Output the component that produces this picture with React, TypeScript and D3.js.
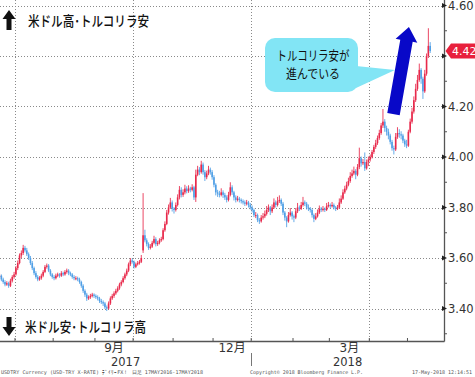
import React from "react";
import * as d3 from "d3";

const W = 475;
const H = 377;

// business-day series start (USDTRY daily candles)
const startDate = new Date(2017, 5, 19);

const opens = [
3.520,3.525,3.530,3.515,3.505,3.495,3.500,3.490,3.510,3.525,
3.535,3.560,3.580,3.610,3.620,3.640,3.630,3.615,3.600,3.580,
3.560,3.540,3.525,3.515,3.520,3.530,3.545,3.565,3.570,3.550,
3.535,3.525,3.520,3.530,3.535,3.530,3.540,3.535,3.545,3.550,
3.540,3.535,3.525,3.520,3.520,3.515,3.505,3.490,3.470,3.455,
3.440,3.445,3.450,3.455,3.450,3.445,3.440,3.430,3.425,3.420,
3.405,3.400,3.420,3.440,3.450,3.460,3.470,3.480,3.495,3.505,
3.520,3.535,3.550,3.575,3.590,3.585,3.565,3.575,3.580,3.585,
3.630,3.690,3.670,3.655,3.640,3.645,3.660,3.675,3.655,3.660,
3.670,3.675,3.710,3.735,3.780,3.800,3.820,3.795,3.790,3.810,
3.840,3.870,3.850,3.860,3.875,3.865,3.875,3.870,3.880,3.840,
3.930,3.950,3.940,3.970,3.940,3.920,3.935,3.950,3.940,3.920,
3.890,3.860,3.855,3.850,3.860,3.850,3.840,3.830,3.850,3.880,
3.860,3.840,3.830,3.835,3.830,3.825,3.820,3.815,3.820,3.810,
3.800,3.790,3.770,3.770,3.750,3.745,3.760,3.765,3.775,3.790,
3.800,3.785,3.800,3.820,3.810,3.825,3.830,3.815,3.780,3.760,
3.745,3.770,3.780,3.765,3.760,3.785,3.800,3.795,3.810,3.820,
3.815,3.800,3.795,3.790,3.770,3.755,3.765,3.780,3.795,3.790,
3.795,3.790,3.805,3.810,3.805,3.810,3.800,3.795,3.800,3.820,
3.835,3.860,3.875,3.890,3.905,3.925,3.935,3.945,3.930,3.960,
3.995,3.975,3.980,3.955,3.980,3.990,4.000,4.020,4.040,4.055,
4.075,4.095,4.125,4.140,4.115,4.100,4.085,4.060,4.035,4.030,
4.080,4.095,4.090,4.085,4.065,4.050,4.045,4.100,4.140,4.180,
4.225,4.270,4.305,4.345,4.310,4.260,4.330,4.400,4.440
];
const highs = [
3.533,3.538,3.535,3.522,3.512,3.508,3.506,3.518,3.532,3.545,
3.568,3.590,3.618,3.630,3.652,3.648,3.640,3.622,3.608,3.588,
3.566,3.548,3.532,3.528,3.538,3.552,3.572,3.578,3.576,3.556,
3.540,3.532,3.538,3.542,3.540,3.548,3.546,3.552,3.558,3.556,
3.546,3.540,3.532,3.528,3.526,3.522,3.510,3.496,3.476,3.462,
3.452,3.458,3.462,3.460,3.456,3.452,3.446,3.438,3.432,3.426,
3.412,3.428,3.448,3.458,3.468,3.478,3.488,3.502,3.512,3.528,
3.542,3.558,3.582,3.600,3.598,3.590,3.582,3.588,3.592,3.612,
3.857,3.712,3.678,3.662,3.655,3.668,3.688,3.682,3.668,3.678,
3.684,3.718,3.745,3.790,3.812,3.838,3.828,3.802,3.820,3.852,
3.885,3.880,3.872,3.890,3.884,3.888,3.882,3.892,3.886,3.950,
3.965,3.960,3.985,3.978,3.948,3.946,3.965,3.958,3.948,3.928,
3.896,3.870,3.866,3.876,3.868,3.858,3.848,3.862,3.900,3.888,
3.866,3.848,3.846,3.842,3.836,3.832,3.828,3.830,3.826,3.818,
3.808,3.796,3.782,3.776,3.758,3.770,3.778,3.788,3.806,3.812,
3.806,3.812,3.836,3.828,3.842,3.848,3.836,3.822,3.786,3.766,
3.782,3.798,3.786,3.772,3.798,3.818,3.808,3.822,3.842,3.828,
3.822,3.812,3.802,3.796,3.776,3.778,3.792,3.808,3.802,3.806,
3.800,3.818,3.822,3.816,3.822,3.816,3.806,3.810,3.836,3.848,
3.872,3.886,3.902,3.918,3.940,3.950,3.962,3.952,3.972,4.037,
4.002,3.992,4.018,3.990,4.002,4.010,4.028,4.048,4.068,4.085,
4.108,4.135,4.190,4.150,4.124,4.112,4.092,4.068,4.045,4.095,
4.118,4.110,4.102,4.092,4.072,4.068,4.108,4.152,4.195,4.240,
4.290,4.325,4.370,4.352,4.318,4.345,4.410,4.510,4.455
];
const lows = [
3.512,3.518,3.508,3.498,3.488,3.490,3.482,3.485,3.503,3.518,
3.530,3.552,3.575,3.600,3.612,3.622,3.608,3.592,3.572,3.552,
3.532,3.518,3.508,3.510,3.514,3.524,3.540,3.558,3.544,3.528,
3.518,3.512,3.515,3.524,3.522,3.525,3.528,3.530,3.538,3.532,
3.528,3.518,3.512,3.512,3.508,3.498,3.482,3.462,3.446,3.430,
3.434,3.438,3.444,3.442,3.438,3.432,3.422,3.418,3.410,3.398,
3.390,3.396,3.414,3.434,3.442,3.454,3.464,3.474,3.488,3.500,
3.514,3.528,3.544,3.568,3.578,3.558,3.560,3.570,3.574,3.580,
3.620,3.662,3.646,3.632,3.634,3.640,3.654,3.646,3.648,3.654,
3.664,3.670,3.704,3.730,3.772,3.794,3.784,3.776,3.784,3.804,
3.832,3.840,3.842,3.852,3.856,3.858,3.860,3.864,3.830,3.822,
3.924,3.928,3.934,3.930,3.905,3.912,3.928,3.930,3.910,3.880,
3.848,3.842,3.840,3.844,3.838,3.830,3.820,3.824,3.844,3.850,
3.828,3.820,3.824,3.820,3.816,3.812,3.806,3.808,3.800,3.792,
3.780,3.762,3.758,3.742,3.735,3.740,3.752,3.758,3.768,3.782,
3.770,3.778,3.794,3.800,3.804,3.818,3.806,3.770,3.748,3.722,
3.740,3.764,3.752,3.742,3.754,3.778,3.786,3.790,3.804,3.806,
3.792,3.786,3.780,3.760,3.742,3.750,3.760,3.774,3.782,3.784,
3.782,3.786,3.800,3.796,3.800,3.792,3.786,3.790,3.796,3.814,
3.830,3.854,3.868,3.884,3.898,3.918,3.928,3.912,3.924,3.952,
3.962,3.968,3.945,3.950,3.964,3.982,3.994,4.012,4.032,4.048,
4.068,4.088,4.115,4.100,4.085,4.070,4.050,4.025,4.010,4.024,
4.072,4.076,4.070,4.055,4.040,4.035,4.040,4.094,4.132,4.172,
4.218,4.262,4.298,4.290,4.230,4.254,4.322,4.392,4.412
];
const closes = [
3.525,3.530,3.515,3.505,3.495,3.500,3.490,3.510,3.525,3.535,
3.560,3.580,3.610,3.620,3.640,3.630,3.615,3.600,3.580,3.560,
3.540,3.525,3.515,3.520,3.530,3.545,3.565,3.570,3.550,3.535,
3.525,3.520,3.530,3.535,3.530,3.540,3.535,3.545,3.550,3.540,
3.535,3.525,3.520,3.520,3.515,3.505,3.490,3.470,3.455,3.440,
3.445,3.450,3.455,3.450,3.445,3.440,3.430,3.425,3.420,3.405,
3.400,3.420,3.440,3.450,3.460,3.470,3.480,3.495,3.505,3.520,
3.535,3.550,3.575,3.590,3.585,3.565,3.575,3.580,3.585,3.600,
3.690,3.670,3.655,3.640,3.645,3.660,3.675,3.655,3.660,3.670,
3.675,3.710,3.735,3.780,3.800,3.820,3.795,3.790,3.810,3.840,
3.870,3.850,3.860,3.875,3.865,3.875,3.870,3.880,3.840,3.930,
3.950,3.940,3.970,3.940,3.920,3.935,3.950,3.940,3.920,3.890,
3.860,3.855,3.850,3.860,3.850,3.840,3.830,3.850,3.880,3.860,
3.840,3.830,3.835,3.830,3.825,3.820,3.815,3.820,3.810,3.800,
3.790,3.770,3.770,3.750,3.745,3.760,3.765,3.775,3.790,3.800,
3.785,3.800,3.820,3.810,3.825,3.830,3.815,3.780,3.760,3.745,
3.770,3.780,3.765,3.760,3.785,3.800,3.795,3.810,3.820,3.815,
3.800,3.795,3.790,3.770,3.755,3.765,3.780,3.795,3.790,3.795,
3.790,3.805,3.810,3.805,3.810,3.800,3.795,3.800,3.820,3.835,
3.860,3.875,3.890,3.905,3.925,3.935,3.945,3.930,3.960,3.995,
3.975,3.980,3.955,3.980,3.990,4.000,4.020,4.040,4.055,4.075,
4.095,4.125,4.140,4.115,4.100,4.085,4.060,4.035,4.030,4.080,
4.095,4.090,4.085,4.065,4.050,4.045,4.100,4.140,4.180,4.225,
4.270,4.305,4.345,4.310,4.260,4.330,4.400,4.440,4.420
];

const yTicks = [3.4, 3.6, 3.8, 4.0, 4.2, 4.4, 4.6];
const yMinorTicks = [3.3, 3.5, 3.7, 3.9, 4.1, 4.3, 4.5];
const monthLabelMap: Record<number, string> = { 8: "9月", 11: "12月", 2: "3月" };
const yearLabels = ["2017", "2018"];
const lastPrice = 4.42;
const upperLabel = "米ドル高･トルコリラ安";
const lowerLabel = "米ドル安･トルコリラ高";
const calloutLines = ["トルコリラ安が", "進んでいる"];
// trend arrow: [business-day index, price]
const arrowFrom: [number, number] = [217.8, 4.17];
const arrowTo: [number, number] = [226.3, 4.515];
const footerLeft = "USDTRY Currency (USD-TRY X-RATE) ﾃﾞｲﾘｰFX！  日足 17MAY2016-17MAY2018";
const footerMid = "Copyright© 2018 Bloomberg Finance L.P.";
const footerRight = "17-May-2018 12:14:51";

function businessDays(start: Date, n: number): Date[] {
  const out: Date[] = [];
  const d = new Date(start);
  while (out.length < n) {
    const wd = d.getDay();
    if (wd !== 0 && wd !== 6) out.push(new Date(d));
    d.setDate(d.getDate() + 1);
  }
  return out;
}

const UP = "#e8294b";
const DOWN = "#4f9fe6";
const AX = "#555";
const GRID = "#8a8a8a";
const NUMFONT = "'DejaVu Sans', Verdana, sans-serif";
const JPFONT = "'Noto Sans CJK JP', sans-serif";
const MONO = "'DejaVu Sans Mono', monospace";

export default function App() {
  const plotR = 444;
  const plotB = 341;
  const dates = businessDays(startDate, closes.length);
  const x = d3.scaleLinear().domain([1.245, 245.6]).range([0, plotR]);
  const y = d3.scaleLinear().domain([3.4, 4.6]).range([308.5, 5.5]);

  const boundaries: { pos: number; month: number }[] = [];
  for (let i = 1; i < dates.length; i++) {
    if (dates[i].getMonth() !== dates[i - 1].getMonth()) {
      boundaries.push({ pos: i - 0.5, month: dates[i].getMonth() });
    }
  }
  const gridBounds = boundaries.filter((b) => b.month % 3 === 0);

  const monthCenters: { label: string; pos: number }[] = [];
  Object.keys(monthLabelMap).forEach((k) => {
    const m = +k;
    const idx = dates.map((d, i) => (d.getMonth() === m ? i : -1)).filter((i) => i >= 0);
    if (idx.length) monthCenters.push({ label: monthLabelMap[m], pos: (idx[0] + idx[idx.length - 1]) / 2 });
  });
  const yearBoundary = boundaries.find((b) => b.month === 0)!.pos;
  const [d0, d1] = x.domain();
  const yearCenters = [(d0 + yearBoundary) / 2, (yearBoundary + d1) / 2];

  const bx = x(arrowFrom[0]), by = y(arrowFrom[1]);
  const tx = x(arrowTo[0]), ty = y(arrowTo[1]);
  const len = Math.hypot(tx - bx, ty - by);
  const ux = (tx - bx) / len, uy = (ty - by) / len;
  const nx = -uy, ny = ux;
  const hw = 6.3, hh = 11, hl = 14;
  const hx = tx - ux * hl, hy = ty - uy * hl;
  const arrowPts = [
    [bx + nx * hw, by + ny * hw],
    [hx + nx * hw, hy + ny * hw],
    [hx + nx * hh, hy + ny * hh],
    [tx, ty],
    [hx - nx * hh, hy - ny * hh],
    [hx - nx * hw, hy - ny * hw],
    [bx - nx * hw, by - ny * hw],
  ].map((p) => p.join(",")).join(" ");

  const ly = y(lastPrice);
  const visibleTickLabels = yTicks.filter((t) => Math.abs(y(t) - ly) > 9);

  return (
    <svg width={W} height={H} style={{ position: "absolute", left: 0, top: 0, background: "#fff" }}>
      <defs>
        <clipPath id="plotclip">
          <rect x={0} y={0} width={plotR} height={plotB} />
        </clipPath>
      </defs>
      <g stroke={GRID} strokeWidth={1} strokeDasharray="1 2">
        {yTicks.map((t) => (
          <line key={"h" + t} x1={0} x2={plotR} y1={Math.round(y(t)) + 0.5} y2={Math.round(y(t)) + 0.5} />
        ))}
        {gridBounds.map((b) => (
          <line key={"v" + b.pos} x1={Math.round(x(b.pos)) + 0.5} x2={Math.round(x(b.pos)) + 0.5} y1={0} y2={plotB} />
        ))}
      </g>
      <g clipPath="url(#plotclip)">
        {closes.map((c, i) => {
          const o = opens[i];
          const col = c >= o ? UP : DOWN;
          const cx = x(i);
          const top = y(Math.max(o, c));
          const bot = y(Math.min(o, c));
          return (
            <g key={i}>
              <line x1={cx} x2={cx} y1={y(highs[i])} y2={y(lows[i])} stroke={col} strokeWidth={1} opacity={0.85} />
              <rect x={cx - 0.8} y={top} width={1.6} height={Math.max(1, bot - top)} fill={col} />
            </g>
          );
        })}
      </g>
      <line x1={plotR + 0.5} x2={plotR + 0.5} y1={0} y2={plotB + 0.5} stroke={AX} strokeWidth={1.3} />
      <line x1={0} x2={plotR + 0.5} y1={plotB + 0.5} y2={plotB + 0.5} stroke={AX} strokeWidth={1.3} />
      {boundaries.map((b) => (
        <line key={"mt" + b.pos} x1={x(b.pos)} x2={x(b.pos)} y1={plotB - 3} y2={plotB} stroke={AX} strokeWidth={1} />
      ))}
      {yMinorTicks.map((t) => (
        <line key={"mn" + t} x1={plotR} x2={plotR + 3} y1={y(t)} y2={y(t)} stroke={AX} strokeWidth={1} />
      ))}
      {yTicks.map((t) => (
        <polygon key={"yt" + t} points={`${plotR - 2},${y(t) - 2.5} ${plotR + 3},${y(t)} ${plotR - 2},${y(t) + 2.5}`} fill="#222" />
      ))}
      {visibleTickLabels.map((t) => (
        <text key={"yl" + t} x={448} y={y(t)} dy="0.36em" fontSize={11.5} fontFamily={NUMFONT} fill="#333">
          {t.toFixed(2)}
        </text>
      ))}
      <polygon
        points={`${plotR + 1.5},${ly} ${plotR + 7},${ly - 7.5} ${W},${ly - 7.5} ${W},${ly + 7.5} ${plotR + 7},${ly + 7.5}`}
        fill="#e8203c"
      />
      <text x={452} y={ly} dy="0.36em" fontSize={11} fontFamily={NUMFONT} fill="#fff">
        {lastPrice.toFixed(2)}
      </text>
      {monthCenters.map((m) => (
        <text key={m.label} x={x(m.pos)} y={352} textAnchor="middle" fontSize={12} fontFamily={`${NUMFONT}, ${JPFONT}`} fill="#333">
          {m.label}
        </text>
      ))}
      {yearLabels.map((yl, i) => (
        <text key={yl} x={x(yearCenters[i])} y={366} textAnchor="middle" fontSize={11.5} fontFamily={NUMFONT} fill="#333">
          {yl}
        </text>
      ))}
      <line x1={Math.round(x(yearBoundary)) + 0.5} x2={Math.round(x(yearBoundary)) + 0.5} y1={353} y2={366} stroke="#777" strokeWidth={1} />
      <text x={1} y={374} fontSize={5} fontFamily={MONO} fill="#555" textLength={202} lengthAdjust="spacingAndGlyphs">
        {footerLeft}
      </text>
      <text x={250} y={374} fontSize={5} fontFamily={MONO} fill="#555" textLength={113} lengthAdjust="spacingAndGlyphs">
        {footerMid}
      </text>
      <text x={412} y={374} fontSize={5} fontFamily={MONO} fill="#555" textLength={60} lengthAdjust="spacingAndGlyphs">
        {footerRight}
      </text>
      <polygon points="9,10 15.5,19 11.5,19 11.5,30 6.5,30 6.5,19 2.5,19" fill="#111" />
      <text x={28} y={26} fontSize={14} fontWeight={500} fontFamily={JPFONT} fill="#111" textLength={121} lengthAdjust="spacingAndGlyphs">
        {upperLabel}
      </text>
      <polygon points="9,336 15.5,327 11.5,327 11.5,317 6.5,317 6.5,327 2.5,327" fill="#111" />
      <text x={25} y={332} fontSize={14} fontWeight={500} fontFamily={JPFONT} fill="#111" textLength={121} lengthAdjust="spacingAndGlyphs">
        {lowerLabel}
      </text>
      <polygon points="356,66 395,70 356,88" fill="#82e5f5" />
      <rect x={265} y={38} width={93} height={54} rx={10} fill="#82e5f5" />
      <text x={313} y={60} textAnchor="middle" fontSize={13} fontFamily={JPFONT} fill="#111" textLength={73} lengthAdjust="spacingAndGlyphs">
        {calloutLines[0]}
      </text>
      <text x={313} y={78} textAnchor="middle" fontSize={13} fontFamily={JPFONT} fill="#111" textLength={54} lengthAdjust="spacingAndGlyphs">
        {calloutLines[1]}
      </text>
      <polygon points={arrowPts} fill="#0808c8" />
    </svg>
  );
}
